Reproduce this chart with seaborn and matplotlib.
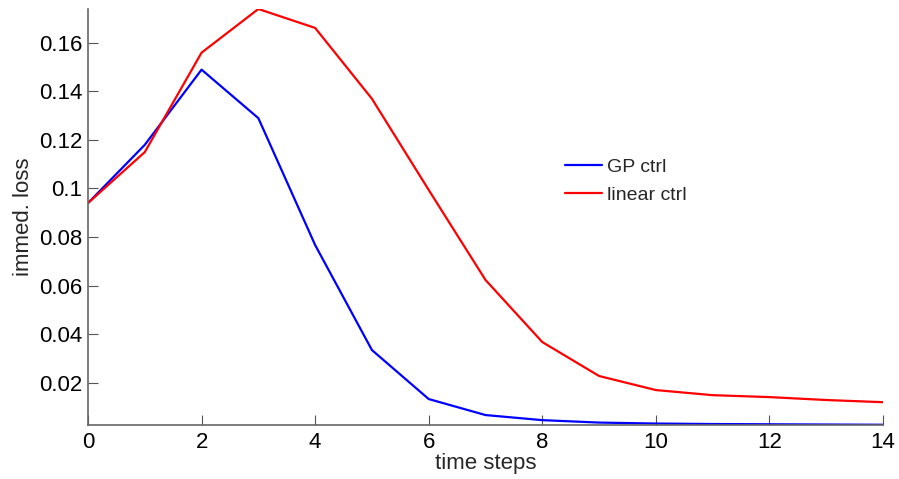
import numpy as np
import pandas as pd
import seaborn as sns
import matplotlib
matplotlib.use("Agg")
import matplotlib.pyplot as plt

steps = list(range(15))
gp_ctrl = [0.094, 0.118, 0.149, 0.129, 0.0767, 0.0334, 0.0132, 0.0066,
           0.0045, 0.0035, 0.0031, 0.0029, 0.0028, 0.0027, 0.0026]
linear_ctrl = [0.094, 0.115, 0.156, 0.174, 0.1662, 0.137, 0.0994, 0.0623,
               0.0367, 0.0227, 0.0169, 0.0148, 0.0140, 0.0128, 0.0119]
series_names = ["GP ctrl", "linear ctrl"]
xticks = [0, 2, 4, 6, 8, 10, 12, 14]
yticks = [0.02, 0.04, 0.06, 0.08, 0.10, 0.12, 0.14, 0.16]
ytick_labels = ["0.02", "0.04", "0.06", "0.08", "0.1", "0.12", "0.14", "0.16"]

df = pd.DataFrame({
    "time steps": steps * 2,
    "immed. loss": gp_ctrl + linear_ctrl,
    "controller": [series_names[0]] * len(steps) + [series_names[1]] * len(steps),
})

sns.set_theme(style="ticks")
plt.rcParams["font.family"] = ["Liberation Sans", "DejaVu Sans"]

fig = plt.figure(figsize=(8.99, 4.79), dpi=100)
ax = fig.add_axes([88 / 899, 1 - 425 / 479, (883 - 88) / 899, (425 - 9) / 479])

sns.lineplot(data=df, x="time steps", y="immed. loss", hue="controller",
             palette=["#0000ff", "#ff0000"], linewidth=1.6, ax=ax)

ax.set_xlim(0, 14)
ax.set_ylim(0.0025, 0.174)
ax.set_xticks(xticks)
ax.set_xticklabels([str(t) for t in xticks])
ax.set_yticks(yticks)
ax.set_yticklabels(ytick_labels)
ax.tick_params(direction="in", length=7, width=0.8, labelsize=16,
               colors="#555555", labelcolor="black")
ax.tick_params(axis="x", pad=5)
ax.tick_params(axis="y", pad=4)
for side in ["top", "right"]:
    ax.spines[side].set_visible(False)
for side in ["left", "bottom"]:
    ax.spines[side].set_color("#666666")
    ax.spines[side].set_linewidth(1.2)

ax.set_xlabel("time steps", fontsize=16, labelpad=0)
ax.set_ylabel("immed. loss", fontsize=16, labelpad=4)

leg = ax.legend(loc="upper left", bbox_to_anchor=(0.578, 0.683), frameon=False,
                fontsize=14, handlelength=1.9, handletextpad=0.25,
                labelspacing=0.55)

fig.savefig("out.png", dpi=100)
